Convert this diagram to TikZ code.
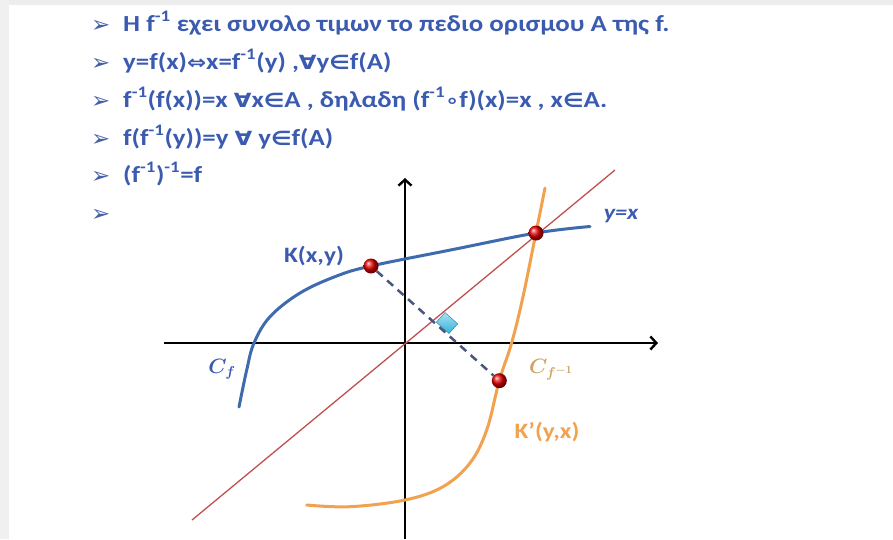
\documentclass[tikz,border=0pt]{standalone}
\usepackage{fontspec}
\setmainfont{Carlito}
\newfontfamily\dejavu[Scale=0.85]{DejaVu Sans}
\usepackage{tikz}
\usetikzlibrary{arrows.meta,positioning}
\definecolor{fblue}{HTML}{3B5BB0}
\definecolor{fcurve}{HTML}{3E6AAE}
\definecolor{forange}{HTML}{F2A24E}
\definecolor{fred}{HTML}{C0504D}
\definecolor{fdash}{HTML}{48557F}
\definecolor{ftan}{HTML}{CFA466}
\definecolor{fcyan}{HTML}{2FB3DD}
\newcommand{\sy}[1]{{\dejavu\bfseries #1}}
\newcommand{\inv}{\textsuperscript{-1}}

\begin{document}
\begin{tikzpicture}[x=1pt,y=-1pt,
  rowtext/.style={anchor=base west,inner sep=0pt,text=fblue,xscale=1.17,transform shape,
    font=\fontsize{23}{26}\selectfont\bfseries},
  bul/.style={anchor=base west,inner sep=0pt,text=fblue!85!gray,
    font=\fontsize{27}{30}\selectfont\dejavu\bfseries},
  axis/.style={line width=2.4pt,-{Straight Barb[length=6pt,width=13pt,line width=2.4pt]}},
  curve/.style={line width=3pt,line cap=round},
  dot/.style={circle,inner sep=0pt,minimum size=15pt,shading=ball,ball color=red!90!black},
  dashline/.style={fdash,line width=2.5pt,dash pattern=on 8pt off 6pt},
  rightmark/.style={rectangle,inner sep=0pt,minimum width=17pt,minimum height=13pt,
    top color=fcyan!40!white,bottom color=fcyan,draw=fcyan!70!black,line width=0.4pt},
  lbl/.style={inner sep=1pt,xscale=1.15,transform shape,font=\fontsize{22}{26}\selectfont\bfseries}]
  \useasboundingbox (0,0) rectangle (893,539);
  \fill[black!7] (0,0) rectangle (893,5);
  \fill[black!6] (0,0) rectangle (9,539);

  \foreach \y [count=\i] in {32,70,108,146,183,221}
    \node[bul] (b\i) at (91,\y) {➢};
  \node[rowtext] (l1) at (123,31) {Η f\inv{} εχει συνολο τιμων το πεδιο ορισμου Α της f.};
  \node[rowtext] (l2) at (123,69) {y=f(x)\sy{⇔}x=f\inv(y) ,\sy{∀}y\sy{∈}f(A)};
  \node[rowtext] (l3) at (123,107) {f\inv(f(x))=x \sy{∀}x\sy{∈}A , δηλαδη (f\inv\sy{∘}f)(x)=x , x\sy{∈}A.};
  \node[rowtext] (l4) at (123,145) {f(f\inv(y))=y \sy{∀} y\sy{∈}f(A)};
  \node[rowtext] (l5) at (123,182) {(f\inv)\inv=f};

  \coordinate (xl) at (164,343);
  \coordinate (xr) at (658,343);
  \coordinate (yb) at (405,539);
  \coordinate (yt) at (405,178);
  \draw[axis] (xl) -- (xr);
  \draw[axis] (yb) -- (yt);
  \draw[fred,line width=1.3pt] (192,520) -- (615,170);

  \draw[curve,fcurve] plot[smooth,tension=0.6] coordinates {(239,407) (246.7,370) (254,343)
    (270,316.7) (300,293) (336.7,276) (371,266) (453,249.5) (536,233) (590,226.5)};
  \draw[curve,forange] plot[smooth,tension=0.6] coordinates {(306.7,505) (350,506.7) (405,500)
    (443,486.7) (470,463) (486.7,430) (499.3,380.7) (511.7,342.7) (523,296.7) (536,232.7) (545,188)};

  \node[dot] (K) at (371,266) {};
  \node[dot] (Kp) at (499.3,380.7) {};
  \node[dot] (M) at (536,233) {};
  \draw[dashline] (K) -- (Kp);
  \node[rightmark,rotate=-42] (sq) at (447,323) {};

  \node[lbl,text=fblue] (Klab) at (314,256) {K(x,y)};
  \node[lbl,text=fblue,font=\fontsize{21}{24}\selectfont\bfseries\itshape] (yx) at (621,216) {y=x};
  \node[inner sep=1pt,text=fblue,font=\fontsize{21}{24}\selectfont\boldmath] (Cf) at (222,369) {$C_f$};
  \node[inner sep=1pt,text=ftan,font=\fontsize{21}{24}\selectfont\boldmath] (Cfi) at (551,370) {$C_{f^{-1}}$};
  \node[lbl,text=forange] (Kplab) at (547,432) {K’(y,x)};
\end{tikzpicture}
\end{document}
